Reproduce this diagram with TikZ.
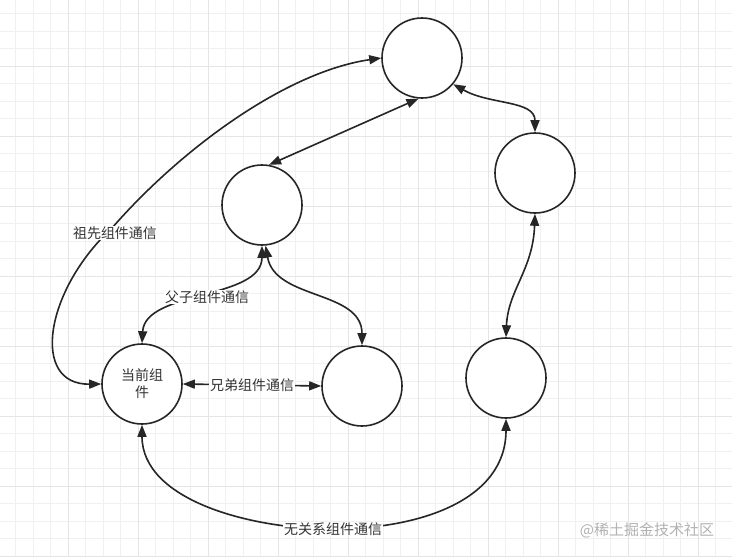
\documentclass[tikz,border=0pt]{standalone}
\usepackage{fontspec}
\newfontfamily\cjk{Noto Sans CJK SC}
\usetikzlibrary{arrows.meta}
\begin{document}
\begin{tikzpicture}[x=1pt,y=-1pt,
  comp/.style={circle,draw=black!85,line width=1.6pt,minimum size=80pt,inner sep=0pt,fill=white,font=\cjk\fontsize{14}{17}\selectfont,text=black!80,align=center},
  conn/.style={draw=black!85,line width=1.6pt,{Triangle[length=12pt,width=9pt]}-{Triangle[length=12pt,width=9pt]}},
  lbl/.style={fill=white,inner sep=1pt,font=\cjk\fontsize{14}{17}\selectfont,text=black!80},
  minorgrid/.style={draw=black!6,line width=0.8pt},
  majorgrid/.style={draw=black!10,line width=0.9pt}]
\fill[white] (0,0) rectangle (732,557);
\useasboundingbox (0,0) rectangle (732,557);
% grid
\foreach \k in {0,...,41} {\draw[minorgrid] ({15.5+17.5*\k},0) -- ({15.5+17.5*\k},557);}
\foreach \k in {0,...,31} {\draw[minorgrid] (0,{13.5+17.5*\k}) -- (732,{13.5+17.5*\k});}
\foreach \k in {0,...,9} {\draw[majorgrid] ({68+70*\k},0) -- ({68+70*\k},557);}
\foreach \k in {0,...,7} {\draw[majorgrid] (0,{66+70*\k}) -- (732,{66+70*\k});}
% nodes
\node[comp] (top) at (422,58) {};
\node[comp] (rt) at (535,173) {};
\node[comp] (mid) at (262,205) {};
\node[comp] (cur) at (142,384) {当前组\\件};
\node[comp] (sib) at (362,386) {};
\node[comp] (br) at (506,378) {};
\coordinate (a1) at (112,228);
\coordinate (a5) at (207,297);
\coordinate (a8) at (333,529);
% connectors
\draw[conn] (cur.west) .. controls (30,385) and (45,290) .. (a1) .. controls (180,150) and (285,72) .. (top.west);
\node[lbl] at (115,233) {祖先组件通信};
\draw[conn] (top.-95) -- (mid.80);
\draw[conn] (top.-40) .. controls (490,105) and (535,100) .. (rt.north);
\draw[conn] (rt.south) .. controls (533,270) and (508,290) .. (br.north);
\draw[conn] (mid.south) .. controls (262,300) and (145,290) .. (cur.north);
\node[lbl] at (a5) {父子组件通信};
\draw[conn] (mid.-85) .. controls (275,300) and (362,290) .. (sib.north);
\draw[conn] (cur.east) -- node[lbl] {兄弟组件通信} (sib.west);
\draw[conn] (cur.south) .. controls (142,500) and (250,529) .. (a8) .. controls (420,529) and (506,500) .. (br.south);
\node[lbl] at (a8) {无关系组件通信};
% watermark
\node[font=\cjk\fontsize{15}{18}\selectfont,text=black!30,inner sep=0pt] (wm) at (647,530) {@稀土掘金技术社区};
\end{tikzpicture}
\end{document}
